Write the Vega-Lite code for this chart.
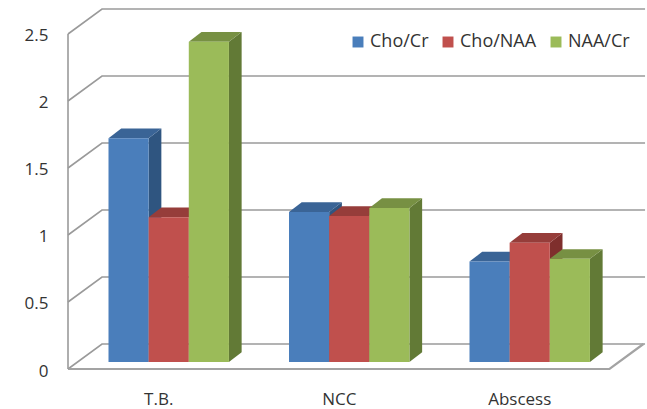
{
"$schema":"https://vega.github.io/schema/vega-lite/v6.json",
"width":579,"height":369,"autosize":"none",
"padding":{"left":68,"top":0,"right":0,"bottom":40},
"background":"white",
"config":{"view":{"stroke":null},
"axisX":{"title":null,"grid":false,"domain":false,"ticks":false,"labelFont":"Open Sans","labelFontSize":17,"labelColor":"#333333","labelPadding":22,"labelAngle":0},
"axisY":{"title":null,"grid":false,"domain":false,"ticks":false,"labelFont":"Open Sans","labelFontSize":17,"labelColor":"#333333","labelPadding":20,"labelOffset":2}},
"datasets":{
"bars":[
{"group":"T.B.","series":"Cho/Cr","value":1.67},
{"group":"T.B.","series":"Cho/NAA","value":1.08},
{"group":"T.B.","series":"NAA/Cr","value":2.39},
{"group":"NCC","series":"Cho/Cr","value":1.12},
{"group":"NCC","series":"Cho/NAA","value":1.09},
{"group":"NCC","series":"NAA/Cr","value":1.15},
{"group":"Abscess","series":"Cho/Cr","value":0.75},
{"group":"Abscess","series":"Cho/NAA","value":0.89},
{"group":"Abscess","series":"NAA/Cr","value":0.77}
],
"ticks":[{"tick":0.5},{"tick":1},{"tick":1.5},{"tick":2},{"tick":2.5},{"tick":0}]
},
"layer":[
{"data":{"name":"ticks"},
"transform":[{"calculate":"[0,1,2]","as":"k"},{"flatten":["k"]},
{"calculate":"datum.k==0?0:datum.k==1?0.1884:3.197","as":"px"},
{"calculate":"datum.k==0?datum.tick:datum.tick+0.1866","as":"py"}],
"mark":{"type":"line","color":"#9a9a9a","strokeWidth":1.6},
"encoding":{
"x":{"field":"px","type":"quantitative","scale":{"domain":[0,3.2078],"nice":false,"zero":false},
"axis":{"values":[0.5,1.5,2.5],"labelExpr":"datum.value<1?'T.B.':datum.value<2?'NCC':'Abscess'"}},
"y":{"field":"py","type":"quantitative","scale":{"domain":[0,2.7537],"nice":false,"zero":false},
"axis":{"values":[0,0.5,1,1.5,2,2.5],"format":"~g"}},
"detail":{"field":"tick"}}},
{"data":{"values":[{"k":0},{"k":1},{"k":2}]},
"transform":[{"calculate":"datum.k==0?0:datum.k==1?3:3.188","as":"px"},{"calculate":"datum.k==2?0.1866:0","as":"py"}],
"mark":{"type":"line","color":"#a3a3a3","strokeWidth":2.2},
"encoding":{
"x":{"field":"px","type":"quantitative","scale":{"domain":[0,3.2078],"nice":false,"zero":false},
"axis":{"values":[0.5,1.5,2.5],"labelExpr":"datum.value<1?'T.B.':datum.value<2?'NCC':'Abscess'"}},
"y":{"field":"py","type":"quantitative","scale":{"domain":[0,2.7537],"nice":false,"zero":false},
"axis":{"values":[0,0.5,1,1.5,2,2.5],"format":"~g"}}}},
{"data":{"values":[{"v0":0,"v1":2.5,"x":0}]},
"mark":{"type":"rule","color":"#9a9a9a","strokeWidth":1.6},
"encoding":{
"x":{"field":"x","type":"quantitative","scale":{"domain":[0,3.2078],"nice":false,"zero":false},
"axis":{"values":[0.5,1.5,2.5],"labelExpr":"datum.value<1?'T.B.':datum.value<2?'NCC':'Abscess'"}},
"y":{"field":"v0","type":"quantitative","scale":{"domain":[0,2.7537],"nice":false,"zero":false},
"axis":{"values":[0,0.5,1,1.5,2,2.5],"format":"~g"}},
"y2":{"field":"v1"}}},
{"data":{"name":"bars"},
"transform":[
{"calculate":"indexof(['T.B.','NCC','Abscess'],datum.group)+0.2244+indexof(['Cho/Cr','Cho/NAA','NAA/Cr'],datum.series)*0.2224","as":"x0"},
{"calculate":"datum.x0+0.2224","as":"x1"},
{"calculate":"datum.value+0.052","as":"t"},
{"calculate":"[0,1]","as":"k"},{"flatten":["k"]},
{"calculate":"datum.x1+datum.k*0.0704","as":"px"},
{"calculate":"0.052+datum.k*0.0725","as":"lo"},
{"calculate":"datum.t+datum.k*0.0725","as":"hi"}],
"mark":{"type":"area","line":false},
"encoding":{
"x":{"field":"px","type":"quantitative","scale":{"domain":[0,3.2078],"nice":false,"zero":false},
"axis":{"values":[0.5,1.5,2.5],"labelExpr":"datum.value<1?'T.B.':datum.value<2?'NCC':'Abscess'"}},
"y":{"field":"hi","type":"quantitative","scale":{"domain":[0,2.7537],"nice":false,"zero":false},
"axis":{"values":[0,0.5,1,1.5,2,2.5],"format":"~g"}},
"y2":{"field":"lo"},
"detail":[{"field":"group"}],
"color":{"field":"series","type":"nominal","legend":null,"scale":{"domain":["Cho/Cr","Cho/NAA","NAA/Cr"],"range":["#2f5580","#7f2f2d","#627a36"]}}}},
{"data":{"name":"bars"},
"transform":[
{"calculate":"indexof(['T.B.','NCC','Abscess'],datum.group)+0.2244+indexof(['Cho/Cr','Cho/NAA','NAA/Cr'],datum.series)*0.2224","as":"x0"},
{"calculate":"datum.x0+0.2224","as":"x1"},
{"calculate":"datum.value+0.052","as":"t"},
{"calculate":"[0,1,2,3]","as":"k"},{"flatten":["k"]},
{"calculate":"datum.k==0?datum.x0:datum.k==1?datum.x0+0.0704:datum.k==2?datum.x1:datum.x1+0.0704","as":"px"},
{"calculate":"datum.k==3?datum.t+0.0725:datum.t","as":"lo"},
{"calculate":"datum.k==0?datum.t:datum.t+0.0725","as":"hi"}],
"mark":{"type":"area","line":false},
"encoding":{
"x":{"field":"px","type":"quantitative","scale":{"domain":[0,3.2078],"nice":false,"zero":false},
"axis":{"values":[0.5,1.5,2.5],"labelExpr":"datum.value<1?'T.B.':datum.value<2?'NCC':'Abscess'"}},
"y":{"field":"hi","type":"quantitative","scale":{"domain":[0,2.7537],"nice":false,"zero":false},
"axis":{"values":[0,0.5,1,1.5,2,2.5],"format":"~g"}},
"y2":{"field":"lo"},
"detail":[{"field":"group"}],
"color":{"field":"series","type":"nominal","legend":null,"scale":{"domain":["Cho/Cr","Cho/NAA","NAA/Cr"],"range":["#3a6496","#963d3a","#779043"]}}}},
{"data":{"name":"bars"},
"transform":[
{"calculate":"indexof(['T.B.','NCC','Abscess'],datum.group)+0.2244+indexof(['Cho/Cr','Cho/NAA','NAA/Cr'],datum.series)*0.2224","as":"x0"},
{"calculate":"datum.x0+0.2224","as":"x1"},
{"calculate":"datum.value+0.052","as":"t"},
{"calculate":"0.052","as":"b"}],
"mark":{"type":"bar"},
"encoding":{
"x":{"field":"x0","type":"quantitative","scale":{"domain":[0,3.2078],"nice":false,"zero":false},
"axis":{"values":[0.5,1.5,2.5],"labelExpr":"datum.value<1?'T.B.':datum.value<2?'NCC':'Abscess'"}},
"x2":{"field":"x1"},
"y":{"field":"t","type":"quantitative","scale":{"domain":[0,2.7537],"nice":false,"zero":false},
"axis":{"values":[0,0.5,1,1.5,2,2.5],"format":"~g"}},
"y2":{"field":"b"},
"color":{"field":"series","type":"nominal","scale":{"domain":["Cho/Cr","Cho/NAA","NAA/Cr"],"range":["#4a7ebb","#c0504d","#9bbb59"]},
"legend":{"title":null,"orient":"none","legendX":281,"legendY":33,"direction":"horizontal","columns":3,"symbolType":"square","symbolSize":120,"symbolStrokeWidth":0,"labelFont":"Open Sans","labelFontSize":18,"labelColor":"#333333","labelOffset":3,"columnPadding":10}}}}
],
"resolve":{"scale":{"color":"independent"}}
}
